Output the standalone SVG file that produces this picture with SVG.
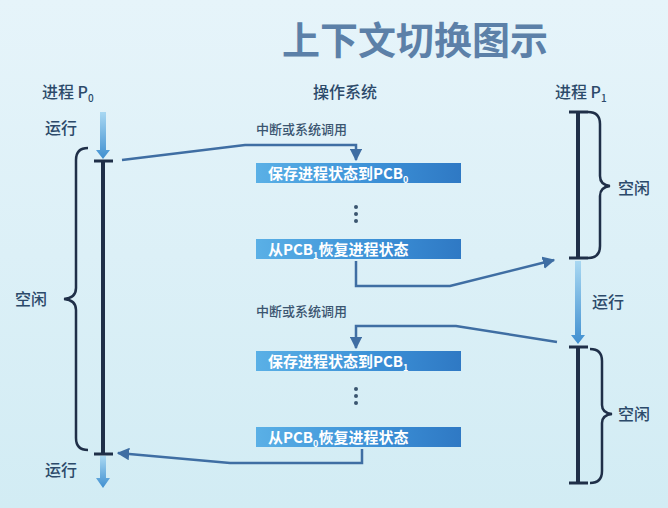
<svg xmlns="http://www.w3.org/2000/svg" width="668" height="508" viewBox="0 0 668 508">
<defs>
<linearGradient id="bg" x1="0" y1="0" x2="0" y2="1"><stop offset="0" stop-color="#e6f4fa"/><stop offset="1" stop-color="#d2ecf4"/></linearGradient>
<linearGradient id="box" x1="0" y1="0" x2="1" y2="0"><stop offset="0" stop-color="#5ab0e6"/><stop offset="0.6" stop-color="#3b8fd6"/><stop offset="1" stop-color="#2f79c4"/></linearGradient>
<linearGradient id="run" x1="0" y1="0" x2="0" y2="1"><stop offset="0" stop-color="#a9d8f2"/><stop offset="1" stop-color="#3f8fd0"/></linearGradient>
<marker id="ah" viewBox="0 0 10 10" refX="9" refY="5" markerWidth="5" markerHeight="5" orient="auto"><path d="M0,0L10,5L0,10z" fill="#3f6ea3"/></marker>
</defs>
<style>
text{font-family:"Noto Sans CJK SC","Noto Sans",sans-serif;}
.lbl{font-size:16px;fill:#2c4a6a;font-weight:500;}
.sm{font-size:13px;fill:#3a5570;font-weight:500;}
.bt{font-size:15px;fill:#ffffff;font-weight:bold;}
.bar{stroke:#1f2f48;stroke-width:4;fill:none;}
.tick{stroke:#1f2f48;stroke-width:3;}
.br{stroke:#1f2f48;stroke-width:2.5;fill:none;}
.con{stroke:#3f6ea3;stroke-width:2.5;fill:none;}
</style>
<rect width="668" height="508" fill="url(#bg)"/>
<text x="415" y="54" text-anchor="middle" font-size="38" font-weight="bold" fill="#5c80a8">上下文切换图示</text>

<g id="p0">
<text x="42" y="98" class="lbl">进程 P<tspan font-size="10" dy="4">0</tspan></text>
<text x="45" y="134" class="lbl">运行</text>
<polygon points="100,112 106,112 106,150 110,150 103,159 96,150 100,150" fill="url(#run)"/>
<line x1="103" y1="161" x2="103" y2="454" class="bar"/>
<line x1="94" y1="161" x2="113" y2="161" class="tick"/>
<line x1="94" y1="454" x2="113" y2="454" class="tick"/>
<polygon points="100,456 106,456 106,478 110,478 103,488 96,478 100,478" fill="url(#run)"/>
<text x="45" y="476" class="lbl">运行</text>
<path d="M88,148 Q76,148 76,160 L76,288 Q76,298 64,299 Q76,300 76,310 L76,438 Q76,450 88,450" class="br"/>
<text x="15" y="305" class="lbl">空闲</text>
</g>

<g id="os">
<text x="345" y="98" text-anchor="middle" class="lbl">操作系统</text>
<text x="256" y="134" class="sm">中断或系统调用</text>
<rect x="256" y="163" width="205" height="20" fill="url(#box)"/>
<text x="268" y="179" class="bt">保存进程状态到PCB<tspan font-size="9" dy="4">0</tspan></text>
<circle cx="356" cy="207" r="2" fill="#3a5570"/><circle cx="356" cy="214" r="2" fill="#3a5570"/><circle cx="356" cy="221" r="2" fill="#3a5570"/>
<rect x="256" y="239" width="205" height="20" fill="url(#box)"/>
<text x="268" y="255" class="bt">从PCB<tspan font-size="9" dy="4">1</tspan><tspan dy="-4">恢复进程状态</tspan></text>
<text x="256" y="316" class="sm">中断或系统调用</text>
<rect x="256" y="351" width="205" height="20" fill="url(#box)"/>
<text x="268" y="367" class="bt">保存进程状态到PCB<tspan font-size="9" dy="4">1</tspan></text>
<circle cx="356" cy="389" r="2" fill="#3a5570"/><circle cx="356" cy="396" r="2" fill="#3a5570"/><circle cx="356" cy="403" r="2" fill="#3a5570"/>
<rect x="256" y="427" width="205" height="20" fill="url(#box)"/>
<text x="268" y="443" class="bt">从PCB<tspan font-size="9" dy="4">0</tspan><tspan dy="-4">恢复进程状态</tspan></text>
</g>

<g id="p1">
<text x="555" y="98" class="lbl">进程 P<tspan font-size="10" dy="4">1</tspan></text>
<line x1="578" y1="112" x2="578" y2="258" class="bar"/>
<line x1="569" y1="112" x2="588" y2="112" class="tick"/>
<line x1="569" y1="258" x2="588" y2="258" class="tick"/>
<polygon points="575,261 581,261 581,335 585,335 578,344 571,335 575,335" fill="url(#run)"/>
<text x="592" y="308" class="lbl">运行</text>
<line x1="578" y1="347" x2="578" y2="483" class="bar"/>
<line x1="569" y1="347" x2="588" y2="347" class="tick"/>
<line x1="569" y1="483" x2="588" y2="483" class="tick"/>
<path d="M588,112 Q600,112 600,124 L600,176 Q600,185 610,186 Q600,187 600,196 L600,246 Q600,258 588,258" class="br"/>
<text x="618" y="194" class="lbl">空闲</text>
<path d="M590,349 Q602,349 602,361 L602,405 Q602,413 612,414 Q602,415 602,423 L602,471 Q602,483 590,483" class="br"/>
<text x="618" y="420" class="lbl">空闲</text>
</g>

<g id="connectors">
<path d="M122,160 L245,145 L356,145 L356,160" class="con" marker-end="url(#ah)"/>
<path d="M356,261 L356,286 L450,286 L554,260" class="con" marker-end="url(#ah)"/>
<path d="M557,342 L456,326 L356,326 L356,348" class="con" marker-end="url(#ah)"/>
<path d="M362,449 L362,463 L230,463 L118,453" class="con" marker-end="url(#ah)"/>
</g>
</svg>
